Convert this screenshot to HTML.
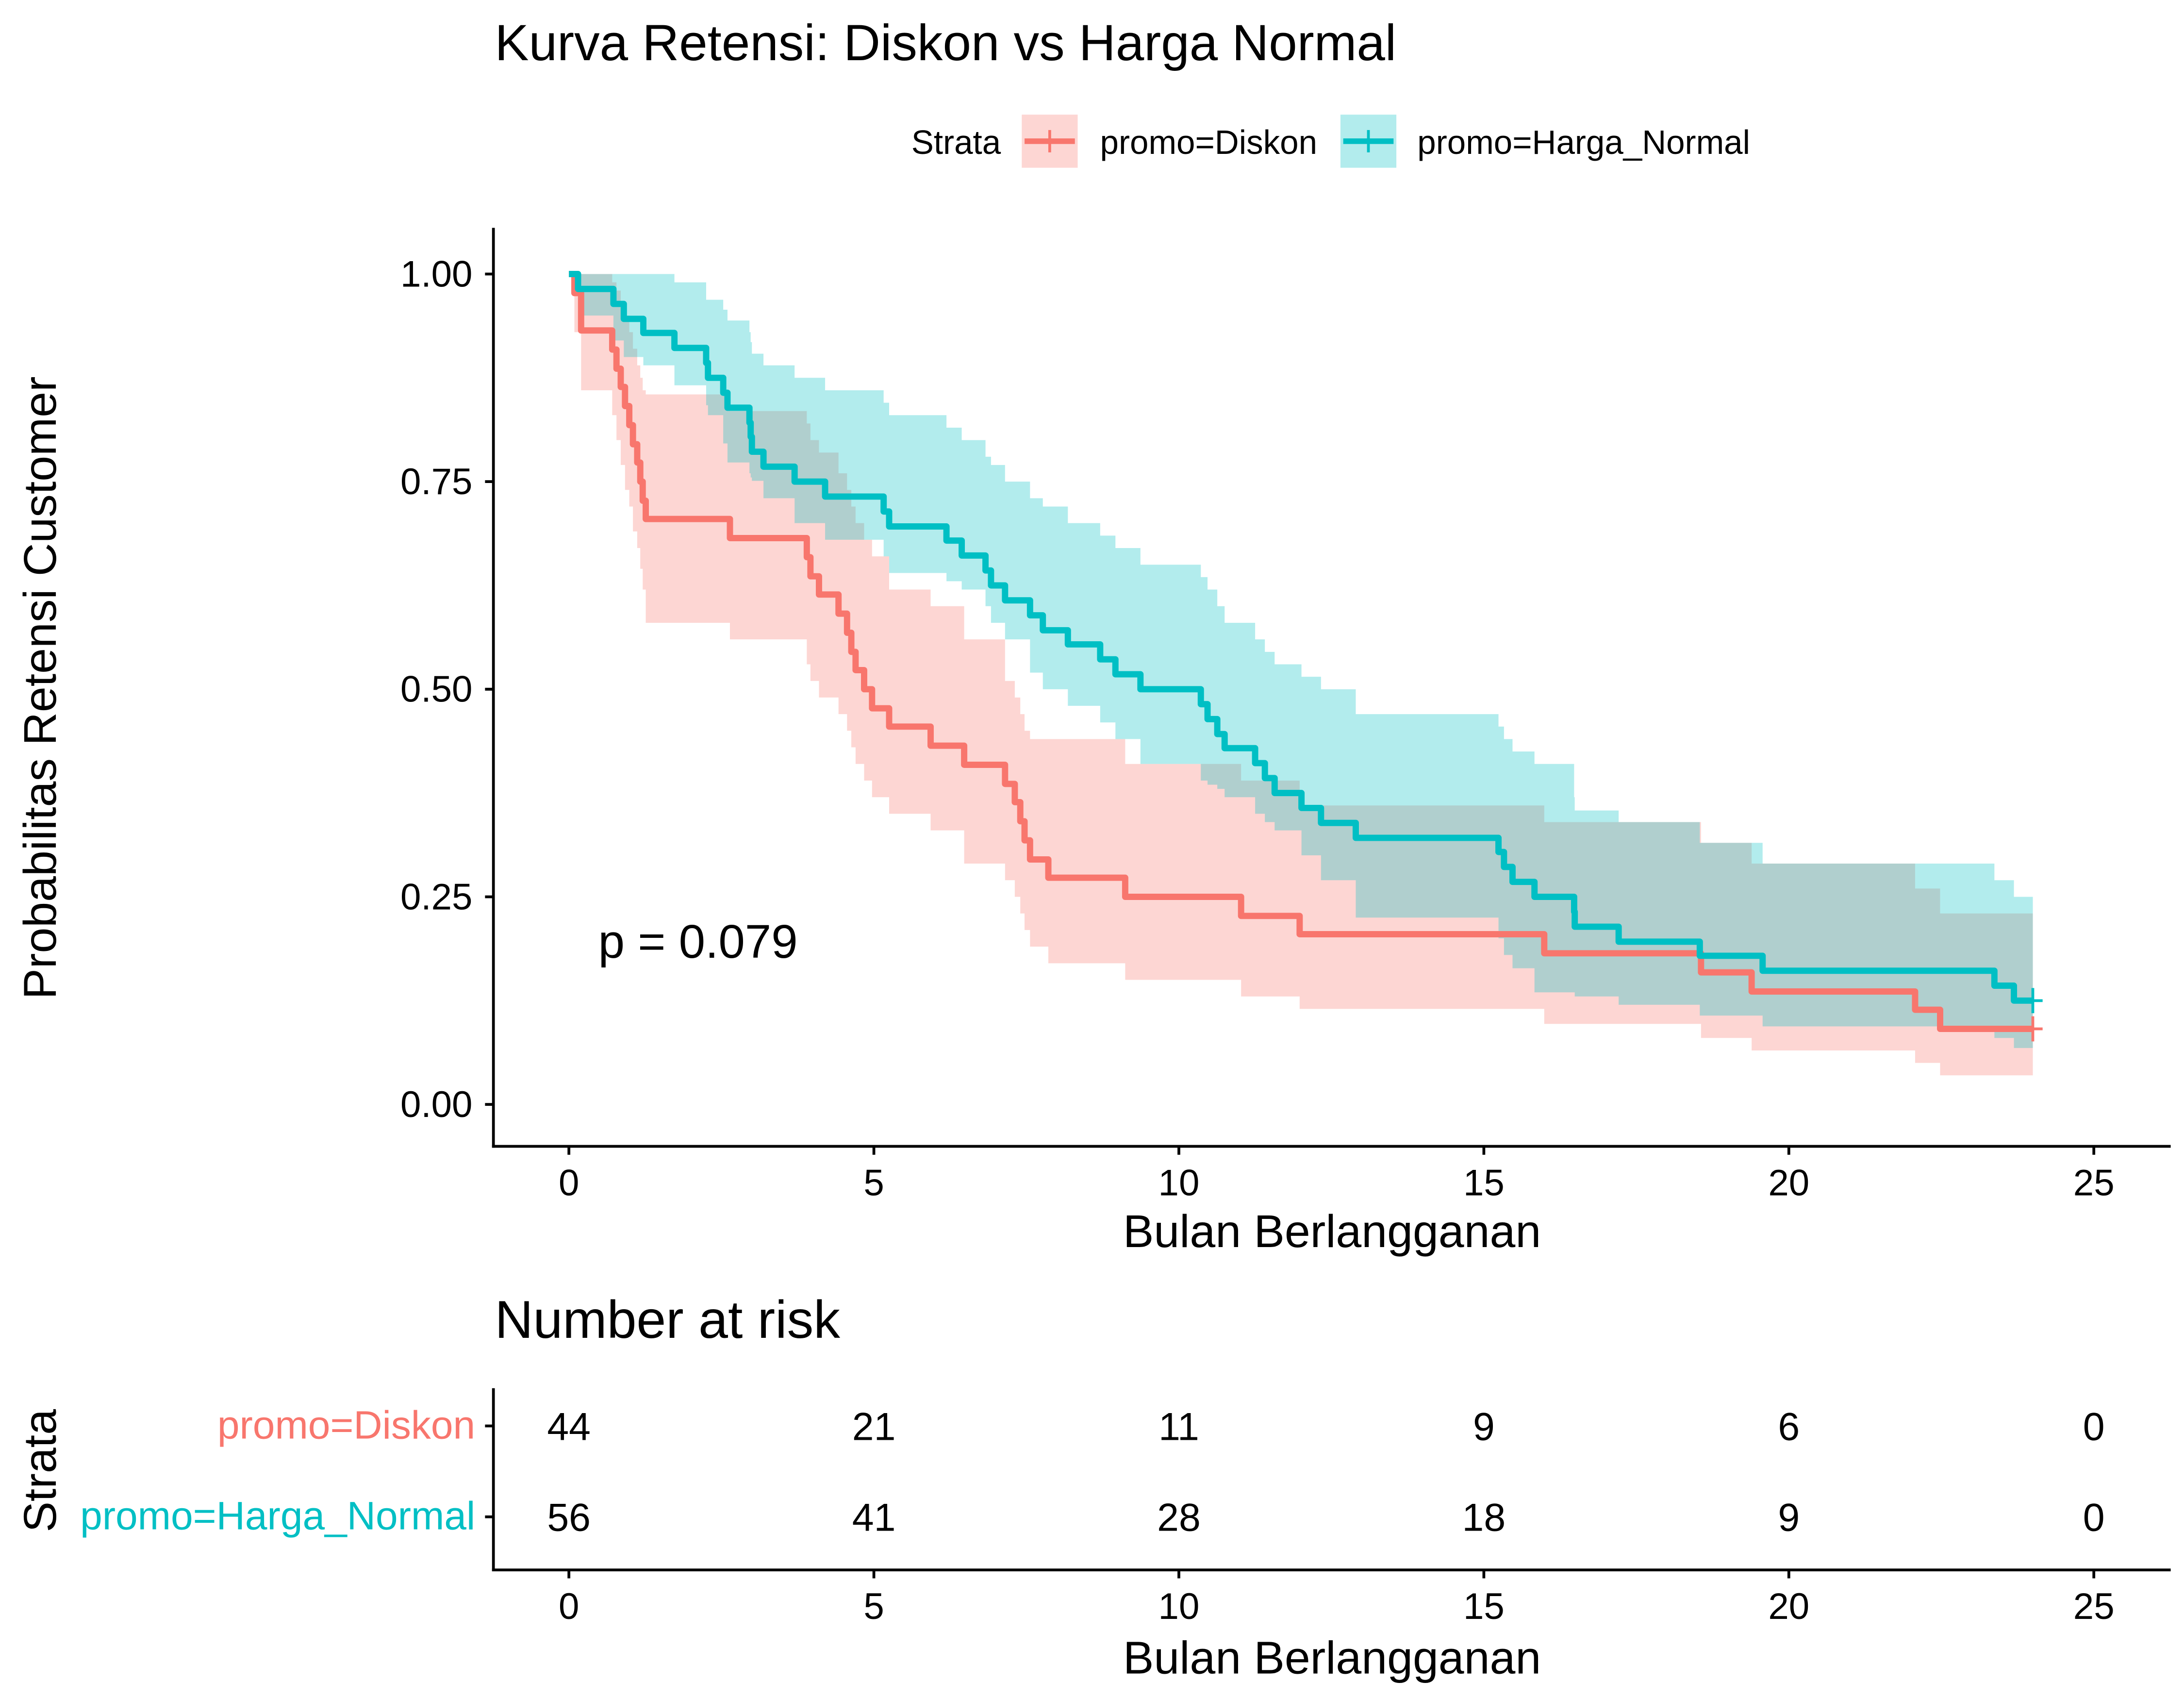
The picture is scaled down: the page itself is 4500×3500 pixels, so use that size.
<!DOCTYPE html>
<html><head><meta charset="utf-8"><style>
html,body{margin:0;padding:0;background:#fff}
svg{display:block}
text{font-family:"Liberation Sans",sans-serif}
</style></head><body>
<svg id="c" width="4500" height="3500" viewBox="0 0 1562.5 1215.3" xmlns="http://www.w3.org/2000/svg">
<rect width="1562.5" height="1215.3" fill="#fff"/>
<text x="354" y="43" font-size="36.5">Kurva Retensi: Diskon vs Harga Normal</text>
<g>
<text x="652" y="110" font-size="24">Strata</text>
<g>
<rect x="731" y="82" width="40" height="38" fill="#F8766D" opacity="0.3"/>
<line x1="733" y1="101" x2="769" y2="101" stroke="#F8766D" stroke-width="4"/>
<line x1="751" y1="93" x2="751" y2="109" stroke="#F8766D" stroke-width="2"/>
<text x="787" y="110" font-size="24">promo=Diskon</text></g>
<g>
<rect x="959" y="82" width="40" height="38" fill="#00BFC4" opacity="0.3"/>
<line x1="961" y1="101" x2="997" y2="101" stroke="#00BFC4" stroke-width="4"/>
<line x1="979" y1="93" x2="979" y2="109" stroke="#00BFC4" stroke-width="2"/>
<text x="1014" y="110" font-size="24">promo=Harga_Normal</text></g>
</g>
<g id="plot"></g>
<g>
<line x1="353" y1="163" x2="353" y2="821" stroke="#000" stroke-width="2"/>
<line x1="352" y1="820" x2="1553" y2="820" stroke="#000" stroke-width="2"/>
</g>
<g id="yt"></g><g id="xt"></g>
<text x="953" y="892" font-size="33" text-anchor="middle">Bulan Berlangganan</text>
<text transform="translate(40,492) rotate(-90)" font-size="33" text-anchor="middle">Probabilitas Retensi Customer</text>
<text x="428" y="685" font-size="34">p = 0.079</text>

<text x="354" y="957" font-size="38">Number at risk</text>
<line x1="353" y1="993" x2="353" y2="1124" stroke="#000" stroke-width="2"/>
<line x1="352" y1="1123" x2="1553" y2="1123" stroke="#000" stroke-width="2"/>
<line x1="347" y1="1020" x2="353" y2="1020" stroke="#000" stroke-width="2"/>
<line x1="347" y1="1085" x2="353" y2="1085" stroke="#000" stroke-width="2"/>
<text x="340" y="1029" font-size="28.5" fill="#F8766D" text-anchor="end">promo=Diskon</text>
<text x="340" y="1094" font-size="28.5" fill="#00BFC4" text-anchor="end">promo=Harga_Normal</text>
<g id="rk"></g><g id="xt2"></g>
<text x="953" y="1197" font-size="33" text-anchor="middle">Bulan Berlangganan</text>
<text transform="translate(40,1052) rotate(-90)" font-size="33" text-anchor="middle">Strata</text>
</svg>
<script>
const xTicks=[0,5,10,15,20,25];
const yTicks=[0,0.25,0.5,0.75,1];
const yTickLabels=["0.00","0.25","0.50","0.75","1.00"];
const riskTimes=[0,5,10,15,20,25];
const riskDiskon=[44,21,11,9,6,0];
const riskNormal=[56,41,28,18,9,0];
const diskonTime=[0,0.09,0.2,0.71,0.78,0.85,0.92,0.99,1.05,1.12,1.17,1.21,1.26,2.64,3.90,3.96,4.10,4.42,4.56,4.63,4.70,4.84,4.97,5.25,5.93,6.48,7.15,7.31,7.40,7.47,7.56,7.86,9.12,11.02,11.98,15.99,18.56,19.39,22.07,22.48];
const diskonSurv=[1,0.977,0.932,0.909,0.886,0.864,0.841,0.818,0.795,0.773,0.75,0.727,0.705,0.682,0.659,0.636,0.614,0.591,0.568,0.545,0.523,0.5,0.477,0.455,0.432,0.409,0.386,0.364,0.341,0.318,0.295,0.273,0.25,0.227,0.205,0.182,0.159,0.136,0.114,0.091];
const diskonUpper=[1,1,1,0.99,0.98,0.965,0.95,0.93,0.91,0.89,0.875,0.86,0.855,0.835,0.82,0.8,0.785,0.76,0.74,0.72,0.70,0.68,0.66,0.62,0.6,0.56,0.51,0.49,0.47,0.45,0.44,0.44,0.41,0.39,0.36,0.34,0.315,0.29,0.26,0.23];
const diskonLower=[1,0.93,0.86,0.83,0.8,0.77,0.74,0.72,0.69,0.67,0.645,0.62,0.58,0.56,0.53,0.51,0.49,0.47,0.45,0.43,0.41,0.39,0.37,0.35,0.33,0.29,0.27,0.25,0.23,0.21,0.19,0.17,0.15,0.13,0.115,0.097,0.08,0.065,0.05,0.035];
const normalTime=[0,0.15,0.73,0.9,1.22,1.73,2.25,2.28,2.53,2.6,2.96,2.98,3.0,3.19,3.7,4.2,5.16,5.25,6.19,6.44,6.83,6.92,7.15,7.56,7.77,8.18,8.71,8.96,9.37,10.36,10.47,10.63,10.75,11.25,11.41,11.57,12.01,12.33,12.90,15.24,15.33,15.47,15.83,16.48,16.49,17.21,18.54,19.57,23.37,23.69];
const normalSurv=[1,0.982,0.964,0.946,0.929,0.911,0.893,0.875,0.857,0.839,0.821,0.804,0.786,0.768,0.75,0.732,0.714,0.696,0.679,0.661,0.643,0.625,0.607,0.589,0.571,0.554,0.536,0.518,0.5,0.482,0.464,0.446,0.429,0.411,0.393,0.375,0.357,0.339,0.321,0.304,0.286,0.268,0.25,0.232,0.214,0.196,0.179,0.161,0.143,0.125];
const normalUpper=[1,1,1,1,1,0.99,0.969,0.969,0.957,0.944,0.93,0.918,0.904,0.89,0.875,0.86,0.845,0.83,0.815,0.8,0.78,0.77,0.75,0.73,0.72,0.7,0.685,0.67,0.65,0.635,0.62,0.6,0.58,0.56,0.545,0.53,0.515,0.5,0.47,0.455,0.44,0.425,0.41,0.37,0.354,0.34,0.315,0.29,0.27,0.25];
const normalLower=[1,0.95,0.92,0.9,0.89,0.866,0.842,0.83,0.796,0.773,0.76,0.755,0.751,0.73,0.70,0.68,0.66,0.64,0.63,0.62,0.6,0.58,0.56,0.52,0.5,0.48,0.46,0.44,0.41,0.39,0.385,0.38,0.37,0.35,0.34,0.33,0.30,0.27,0.225,0.2,0.18,0.164,0.135,0.135,0.13,0.12,0.107,0.094,0.08,0.068];
const endTime=24;
const NS="http://www.w3.org/2000/svg";
const xS=t=>407+t*43.64;
const yS=s=>790-s*594;
function mk(tag,attrs,parent){const e=document.createElementNS(NS,tag);for(const k in attrs)e.setAttribute(k,attrs[k]);parent.appendChild(e);return e;}
const plot=document.getElementById('plot');
function stepPts(T,V){let p=[];for(let i=0;i<T.length;i++){const x=xS(T[i]);if(i>0)p.push([x,yS(V[i-1])]);p.push([x,yS(V[i])]);}p.push([xS(endTime),yS(V[V.length-1])]);return p;}
function drawBand(T,U,L,color,name){
  const up=stepPts(T,U),lo=stepPts(T,L).reverse();
  const el=mk('path',{d:'M'+up.concat(lo).map(p=>p[0].toFixed(2)+','+p[1].toFixed(2)).join('L')+'Z',fill:color,'fill-opacity':0.3},plot);
  
  
}
function drawLine(T,S,color,name){
  const p=stepPts(T,S);
  const el=mk('path',{d:'M'+p.map(q=>q[0].toFixed(2)+','+q[1].toFixed(2)).join('L'),fill:'none',stroke:color,'stroke-width':4.5,'stroke-linejoin':'round'},plot);
  
  
  const cx=xS(endTime),cy=yS(S[S.length-1]);
  const c=mk('path',{d:`M${cx-7},${cy}H${cx+7}M${cx},${cy-9}V${cy+9}`,stroke:color,'stroke-width':2,fill:'none'},plot);
  
  
}
drawBand(diskonTime,diskonUpper,diskonLower,'#F8766D','ci-band-diskon');
drawBand(normalTime,normalUpper,normalLower,'#00BFC4','ci-band-harga-normal');
drawLine(diskonTime,diskonSurv,'#F8766D','curve-diskon');
drawLine(normalTime,normalSurv,'#00BFC4','curve-harga-normal');
const yt=document.getElementById('yt');
yTicks.forEach((v,i)=>{
  mk('line',{x1:347,x2:353,y1:yS(v),y2:yS(v),stroke:'#000','stroke-width':2},yt);
  const t=mk('text',{x:338,y:yS(v)+9,'font-size':26.5,'text-anchor':'end'},yt);t.textContent=yTickLabels[i];
  
  
});
function xAxis(g,y0,ly){xTicks.forEach(v=>{
  mk('line',{x1:xS(v),x2:xS(v),y1:y0,y2:y0+6,stroke:'#000','stroke-width':2},g);
  const t=mk('text',{x:xS(v),y:ly,'font-size':26.5,'text-anchor':'middle'},g);t.textContent=v;
  
  
});}
xAxis(document.getElementById('xt'),820,855);
xAxis(document.getElementById('xt2'),1123,1158);
const rk=document.getElementById('rk');
riskTimes.forEach((v,i)=>{
  const a=mk('text',{x:xS(v),y:1030,'font-size':28,'text-anchor':'middle'},rk);a.textContent=riskDiskon[i];
  
  
  const b=mk('text',{x:xS(v),y:1095,'font-size':28,'text-anchor':'middle'},rk);b.textContent=riskNormal[i];
  
  
});
</script>
</body></html>
